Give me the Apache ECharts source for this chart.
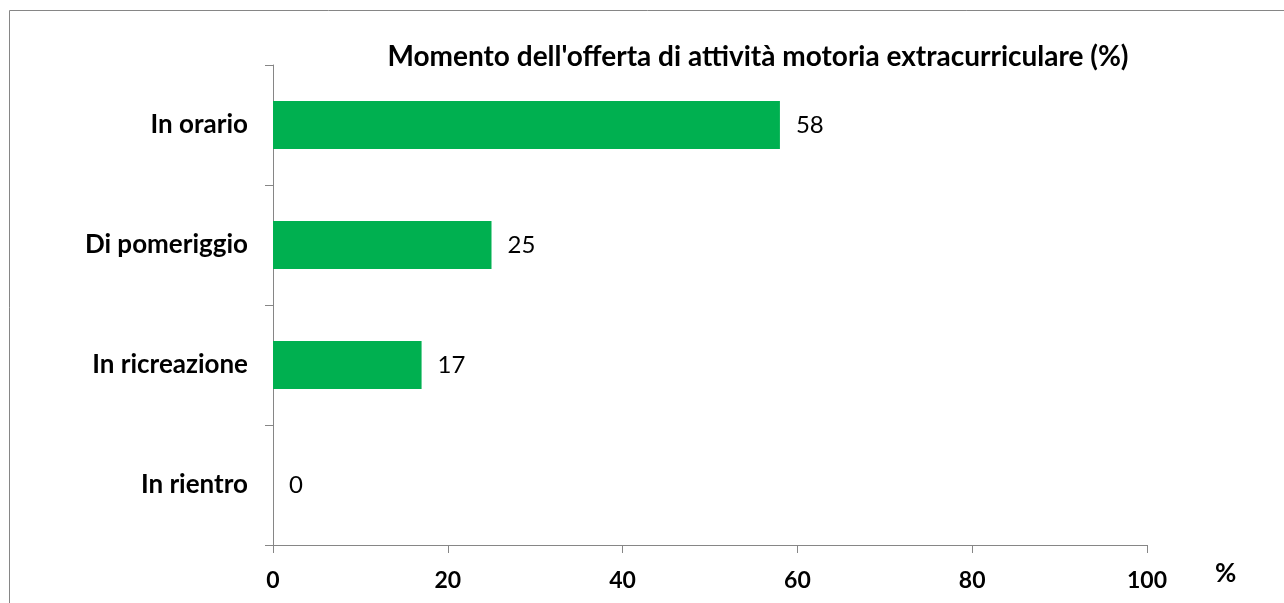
<!DOCTYPE html>
<html><head><meta charset="utf-8">
<script src="https://cdn.jsdelivr.net/npm/echarts@6/dist/echarts.min.js"></script>
<style>html,body{margin:0;padding:0;background:#fff}#c{width:1284px;height:603px}</style>
</head><body><div id="c"></div>
<script>
const categories = ['In orario', 'Di pomeriggio', 'In ricreazione', 'In rientro'];
const values = [58, 25, 17, 0];
const xTicks = [0, 20, 40, 60, 80, 100];
const titleText = "Momento dell'offerta di attività motoria extracurriculare (%)";
const FONT = 'Lato';
const chart = echarts.init(document.getElementById('c'), null, {renderer: 'canvas'});
chart.setOption({
  animation: false,
  backgroundColor: '#fff',
  title: {text: titleText, left: 753, top: 38, textAlign: 'center',
    textStyle: {fontFamily: FONT, fontWeight: 'bold', fontSize: 28, color: '#000'}},
  grid: {left: 273, right: 137, top: 65, bottom: 58, containLabel: false},
  xAxis: {type: 'value', min: xTicks[0], max: xTicks[xTicks.length-1], interval: 20,
    splitLine: {show: false},
    axisLine: {show: true, lineStyle: {color: '#868686', width: 1}},
    axisTick: {show: true, length: 8, lineStyle: {color: '#868686'}},
    axisLabel: {margin: 24, fontFamily: FONT, fontWeight: 'bold', fontSize: 23, color: '#000'}},
  yAxis: {type: 'category', data: categories, inverse: true,
    axisLine: {show: true, lineStyle: {color: '#868686', width: 1}},
    axisTick: {show: true, length: 8, lineStyle: {color: '#868686'}},
    axisLabel: {margin: 25, fontFamily: FONT, fontWeight: 'bold', fontSize: 26, color: '#000'}},
  series: [{type: 'bar', data: values, barWidth: 48,
    itemStyle: {color: '#00B050'},
    label: {show: true, position: 'right', distance: 16, fontFamily: FONT, fontSize: 24, color: '#000'}}],
  graphic: [
    {type: 'rect', shape: {x: 9.5, y: 10.5, width: 1400, height: 700}, style: {fill: 'none', stroke: '#868686', lineWidth: 1}, silent: true},
    {type: 'text', left: 1215, top: 561, style: {text: '%', fontFamily: FONT, fontWeight: 'bold', fontSize: 26, fill: '#000'}}
  ]
});
</script></body></html>
